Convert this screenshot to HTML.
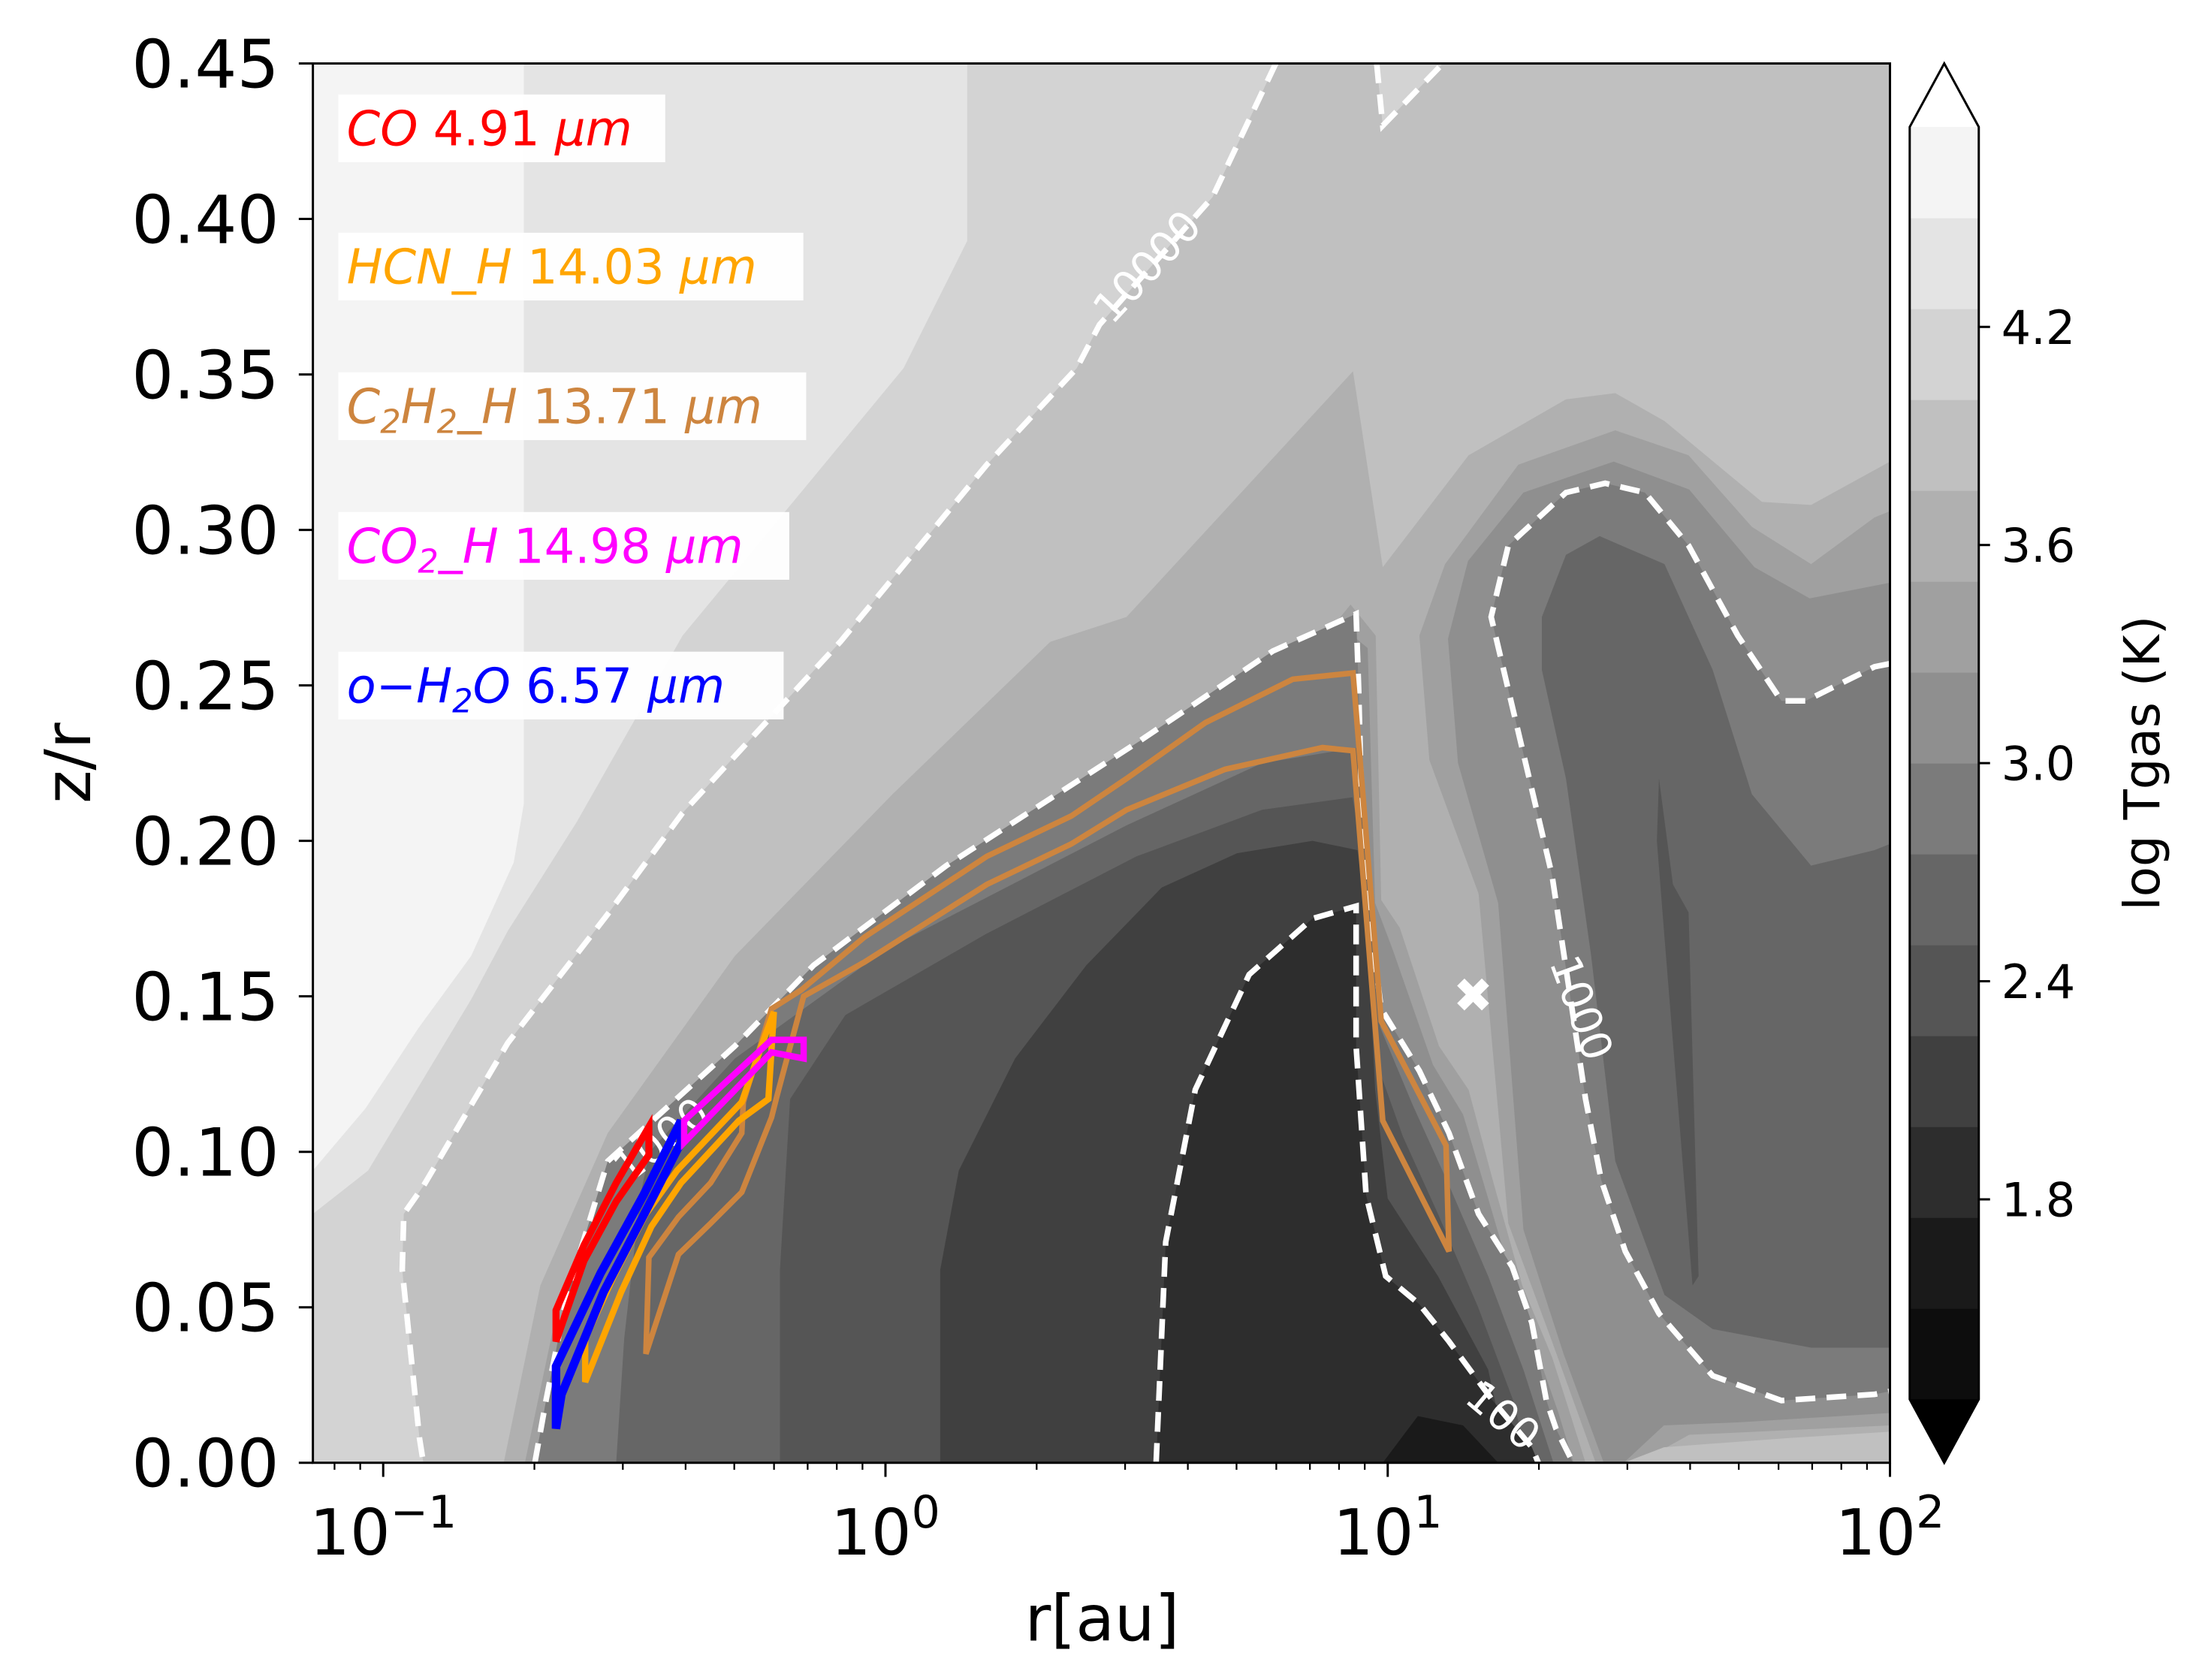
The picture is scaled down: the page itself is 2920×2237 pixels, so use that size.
<!DOCTYPE html>
<html><head><meta charset="utf-8"><style>
html,body{margin:0;padding:0;background:#fff;}
svg{display:block;}
text{font-family:"DejaVu Sans","Liberation Sans",sans-serif;}
</style></head><body>
<svg id="chart" xmlns="http://www.w3.org/2000/svg" width="2920" height="2237" viewBox="0 0 1556 1191" preserveAspectRatio="none">
<defs><clipPath id="plotclip"><rect x="222" y="45" width="1119" height="992"/></clipPath></defs>
<g id="fills" clip-path="url(#plotclip)"></g>
<g id="lines" clip-path="url(#plotclip)"></g>
<g id="axes"></g>
</svg>
<script>
// ---- data (log10 r [au], z/r) ----
const xTicksLog = [-1, 0, 1, 2];
const xTickExp = ["\u22121", "0", "1", "2"];
const yTicks = [0, 0.05, 0.10, 0.15, 0.20, 0.25, 0.30, 0.35, 0.40, 0.45];
const yTickLabels = ["0.00","0.05","0.10","0.15","0.20","0.25","0.30","0.35","0.40","0.45"];
const cbLevels = [1.25,1.5,1.75,2.0,2.25,2.5,2.75,3.0,3.25,3.5,3.75,4.0,4.25,4.5,4.75];
const cbColors = ["#0d0d0d","#1a1a1a","#2d2d2d","#404040","#555555","#666666","#7b7b7b","#8f8f8f","#a0a0a0","#b0b0b0","#c0c0c0","#d3d3d3","#e4e4e4","#f4f4f4"];
const cbTicks = [1.8, 2.4, 3.0, 3.6, 4.2];
const cbTickLabels = ["1.8","2.4","3.0","3.6","4.2"];

const c10000 = [[0.777,0.45],[0.651,0.407],[0.426,0.366],[0.381,0.352],[0.202,0.321],[-0.09,0.264],[-0.404,0.209],[-0.555,0.176],[-0.752,0.135],[-0.92,0.089],[-0.959,0.08],[-0.962,0.062],[-0.928,0.008],[-0.92,0]];
const c10000b = [[0.978,0.45],[0.99,0.43],[1.11,0.45]];
const c1000disk = [[-0.698,0],[-0.676,0.02],[-0.634,0.054],[-0.553,0.097],[-0.3,0.134],[-0.143,0.16],[0.121,0.192],[0.505,0.232],[0.771,0.261],[0.937,0.273],[0.942,0.249],[0.951,0.192],[0.987,0.146],[1.063,0.126],[1.122,0.106],[1.181,0.08],[1.248,0.063],[1.287,0.045],[1.316,0.02],[1.335,0.011],[1.369,0]];
const c1000hook = [[2.0,0.257],[1.969,0.256],[1.832,0.245],[1.784,0.245],[1.697,0.266],[1.599,0.295],[1.512,0.312],[1.433,0.315],[1.355,0.312],[1.24,0.295],[1.206,0.272],[1.26,0.235],[1.327,0.189],[1.394,0.117],[1.425,0.091],[1.473,0.068],[1.54,0.048],[1.647,0.028],[1.784,0.02],[1.969,0.022],[2.0,0.023]];
const c100 = [[0.539,0],[0.558,0.071],[0.617,0.12],[0.724,0.157],[0.85,0.175],[0.937,0.179],[0.937,0.134],[0.957,0.086],[0.996,0.06],[1.063,0.051],[1.122,0.039],[1.209,0.02],[1.287,0.005],[1.3,0]];

const fillD3 = [[-1.14,0.45]].concat(c10000).concat([[-1.14,0]]);
const fillE4 = [[-1.14,0.45],[0.163,0.45],[0.163,0.393],[0.036,0.352],[-0.194,0.307],[-0.404,0.266],[-0.615,0.206],[-0.752,0.171],[-0.825,0.149],[-1.03,0.094],[-1.14,0.08]];
const fillF4 = [[-1.14,0.45],[-0.72,0.45],[-0.72,0.212],[-0.74,0.193],[-0.825,0.163],[-0.929,0.14],[-1.035,0.114],[-1.14,0.094]];
const fillB0 = [[-0.76,0],[-0.687,0.057],[-0.553,0.106],[-0.3,0.163],[0.014,0.215],[0.328,0.264],[0.48,0.272],[0.931,0.351],[0.99,0.288],[1.161,0.324],[1.355,0.342],[1.453,0.344],[1.551,0.335],[1.745,0.309],[1.843,0.308],[2.0,0.322],[2.0,0]];
const diskA0 = [[-0.718,0],[-0.654,0.049],[-0.5,0.094],[-0.247,0.137],[0.034,0.173],[0.482,0.216],[0.763,0.244],[0.926,0.276],[0.976,0.266],[0.987,0.181],[1.024,0.172],[1.102,0.134],[1.161,0.12],[1.209,0.091],[1.268,0.057],[1.327,0.034],[1.355,0.02],[1.394,0]];
const disk8F = [[-0.7,0],[-0.64,0.045],[-0.49,0.088],[-0.24,0.132],[0.04,0.168],[0.48,0.21],[0.76,0.238],[0.93,0.266],[0.96,0.262],[0.975,0.18],[1.01,0.165],[1.09,0.128],[1.15,0.112],[1.2,0.085],[1.26,0.052],[1.31,0.03],[1.34,0.016],[1.37,0]];
const disk66 = [[-0.536,0],[-0.52,0.04],[-0.488,0.086],[-0.47,0.1],[-0.3,0.13],[0,0.165],[0.48,0.205],[0.75,0.225],[0.94,0.23],[0.96,0.2],[0.985,0.14],[1.05,0.115],[1.12,0.09],[1.2,0.06],[1.27,0.03],[1.3,0.015],[1.33,0]];
const disk55 = [[-0.21,0],[-0.21,0.062],[-0.19,0.117],[-0.08,0.144],[0.2,0.17],[0.5,0.195],[0.75,0.21],[0.93,0.214],[0.955,0.19],[0.975,0.13],[1.03,0.105],[1.1,0.08],[1.18,0.05],[1.25,0.02],[1.28,0]];
const disk40 = [[0.109,0],[0.109,0.062],[0.146,0.094],[0.258,0.13],[0.4,0.16],[0.55,0.185],[0.7,0.196],[0.85,0.2],[0.94,0.197],[0.96,0.17],[0.975,0.12],[1.0,0.085],[1.1,0.06],[1.2,0.03],[1.24,0]];
const disk1A = [[0.99,0],[1.06,0.015],[1.15,0.012],[1.22,0]];
const hookA0 = [[1.414,0],[1.327,0.039],[1.24,0.077],[1.181,0.183],[1.083,0.226],[1.063,0.266],[1.114,0.289],[1.26,0.321],[1.453,0.332],[1.599,0.324],[1.725,0.301],[1.843,0.289],[1.969,0.304],[2.0,0.306],[2.0,0.012],[1.6,0.009],[1.5,0]];
const hook8F = [[1.43,0],[1.35,0.035],[1.27,0.075],[1.22,0.18],[1.14,0.225],[1.12,0.265],[1.16,0.29],[1.27,0.312],[1.45,0.322],[1.6,0.313],[1.73,0.288],[1.84,0.278],[2.0,0.283],[2.0,0.016],[1.7,0.013],[1.55,0.012],[1.47,0]];
const hook66 = [[1.307,0.272],[1.355,0.292],[1.422,0.298],[1.551,0.289],[1.647,0.255],[1.725,0.215],[1.843,0.192],[1.969,0.197],[2.0,0.199],[2.0,0.037],[1.969,0.037],[1.843,0.037],[1.647,0.043],[1.551,0.054],[1.453,0.097],[1.405,0.163],[1.355,0.22],[1.307,0.255]];
const hook55 = [[1.536,0.2],[1.54,0.22],[1.568,0.186],[1.599,0.177],[1.619,0.06],[1.607,0.057],[1.551,0.169]];
const cornerC0 = [[1.47,0],[1.55,0.005],[1.8,0.008],[2.0,0.01],[2.0,0]];

const lineCO = [[-0.656,0.049],[-0.6,0.07],[-0.536,0.09],[-0.471,0.108],[-0.471,0.099],[-0.536,0.084],[-0.6,0.065],[-0.656,0.039]];
const lineH2O = [[-0.656,0.031],[-0.567,0.061],[-0.482,0.086],[-0.407,0.11],[-0.407,0.103],[-0.477,0.081],[-0.561,0.055],[-0.645,0.022],[-0.656,0.011]];
const lineCO2 = [[-0.401,0.11],[-0.227,0.136],[-0.163,0.136],[-0.163,0.13],[-0.227,0.132],[-0.401,0.103]];
const lineHCN = [[-0.598,0.026],[-0.598,0.04],[-0.541,0.06],[-0.477,0.08],[-0.415,0.094],[-0.286,0.116],[-0.238,0.138],[-0.222,0.145],[-0.233,0.117],[-0.292,0.11],[-0.407,0.09],[-0.466,0.076],[-0.526,0.055]];
const lineC2H2 = [[-0.477,0.035],[-0.471,0.066],[-0.412,0.079],[-0.348,0.09],[-0.286,0.106],[-0.283,0.116],[-0.238,0.14],[-0.227,0.146],[-0.168,0.152],[-0.042,0.169],[0.202,0.195],[0.37,0.208],[0.48,0.22],[0.637,0.238],[0.811,0.252],[0.931,0.254],[0.987,0.142],[1.116,0.102],[1.122,0.068],[0.99,0.11],[0.931,0.229],[0.87,0.23],[0.676,0.223],[0.48,0.21],[0.37,0.199],[0.202,0.186],[-0.042,0.161],[-0.163,0.15],[-0.216,0.118],[-0.227,0.111],[-0.286,0.087],[-0.348,0.077],[-0.412,0.067]];
const markerPos = [1.17, 0.15];
const contourLabels = [["10000",0.525,0.384,-47],["1000",1.38,0.146,70],["100",1.226,0.0145,40],["1000",-0.443,0.103,-38]];
const legendTexts = [["CO"," 4.91 ","#ff0000"],["HCN_H"," 14.03 ","#ffa500"],["C2H2_H"," 13.71 ","#cd853f"],["CO2_H"," 14.98 ","#ff00ff"],["o\u2212H2O"," 6.57 ","#0000ff"]];

// ---- axis functions ----
const PX0=222, PX1=1341, PY0=1037, PY1=45, LR0=-1.14, LR1=2.0, ZMAX=0.45;
function X(lr){return PX0+(lr-LR0)/(LR1-LR0)*(PX1-PX0);}
function Y(z){return PY0-z/ZMAX*(PY0-PY1);}
const CB0=992, CB1=90;
function YC(v){return CB0-(v-cbLevels[0])/(cbLevels[cbLevels.length-1]-cbLevels[0])*(CB0-CB1);}
const NS="http://www.w3.org/2000/svg";
function mk(tag, parent){const e=document.createElementNS(NS,tag);parent.appendChild(e);return e;}
function pts(arr){return arr.map(p=>X(p[0]).toFixed(1)+","+Y(p[1]).toFixed(1)).join(" ");}

const fills=document.getElementById("fills"), lines=document.getElementById("lines"), axes=document.getElementById("axes");

const bg=mk("rect",fills);


bg.setAttribute("x",PX0);bg.setAttribute("y",PY1);bg.setAttribute("width",PX1-PX0);bg.setAttribute("height",PY0-PY1);bg.setAttribute("fill","#c0c0c0");

const fillList=[[fillD3,"#d3d3d3","fill-d3"],[fillE4,"#e4e4e4","fill-e4"],[fillF4,"#f4f4f4","fill-f4"],[c10000b,"#d3d3d3","fill-d3-top"],[fillB0,"#b0b0b0","fill-b0"],[diskA0,"#a0a0a0","disk-a0"],[disk8F,"#8f8f8f","disk-8f"],[c1000disk,"#7b7b7b","disk-7b"],[disk66,"#666666","disk-66"],[disk55,"#555555","disk-55"],[disk40,"#404040","disk-40"],[c100,"#2d2d2d","disk-2d"],[disk1A,"#1a1a1a","disk-1a"],[hookA0,"#a0a0a0","hook-a0"],[hook8F,"#8f8f8f","hook-8f"],[c1000hook.concat([[2.0,0.257]]),"#7b7b7b","hook-7b"],[hook66,"#666666","hook-66"],[hook55,"#555555","hook-55"],[cornerC0,"#c0c0c0","corner-c0"]];
fillList.forEach(f=>{
  const p=mk("polygon",fills);
  
  
  p.setAttribute("points",pts(f[0]));p.setAttribute("fill",f[1]);
});

// contour dashed lines
[[c10000,"contour-10000"],[c10000b,"contour-10000-top"],[c1000disk,"contour-1000-disk"],[c1000hook,"contour-1000-hook"],[c100,"contour-100"]].forEach(c=>{
  const l=mk("polyline",lines);
  
  
  l.setAttribute("points",pts(c[0]));l.setAttribute("fill","none");l.setAttribute("stroke","#fff");l.setAttribute("stroke-width","4");l.setAttribute("stroke-dasharray","14,8");
});
contourLabels.forEach(c=>{
  const t=mk("text",lines);
  
  
  const x=X(c[1]),y=Y(c[2]);
  t.setAttribute("x",x);t.setAttribute("y",y);t.setAttribute("fill","#fff");t.setAttribute("font-size","30");t.setAttribute("text-anchor","middle");t.setAttribute("dominant-baseline","middle");
  t.setAttribute("transform","rotate("+c[3]+" "+x+" "+y+")");t.textContent=c[0];
});

// emission regions
[[lineC2H2,"#cd853f","region-c2h2",4],[lineHCN,"#ffa500","region-hcn",4.5],[lineCO,"#ff0000","region-co",5],[lineH2O,"#0000ff","region-h2o",6],[lineCO2,"#ff00ff","region-co2",4.5]].forEach(r=>{
  const p=mk("polygon",lines);
  
  
  p.setAttribute("points",pts(r[0]));p.setAttribute("fill","none");p.setAttribute("stroke",r[1]);p.setAttribute("stroke-width",r[3]);p.setAttribute("stroke-linejoin","miter");
});
const mx=mk("text",lines);


mx.setAttribute("x",X(markerPos[0]));mx.setAttribute("y",Y(markerPos[1]));mx.setAttribute("fill","#fff");mx.setAttribute("font-size","34");mx.setAttribute("font-weight","bold");mx.setAttribute("text-anchor","middle");mx.setAttribute("dominant-baseline","central");mx.textContent="\u2716";

// legend
const legY=[91,189,288,387,486];
const legW=[232,330,332,320,316];
legendTexts.forEach((lg,i)=>{
  const g=mk("g",axes);
  
  
  const r=mk("rect",g);
  r.setAttribute("x",240);r.setAttribute("y",legY[i]-24);r.setAttribute("width",legW[i]);r.setAttribute("height",48);r.setAttribute("fill","#fff");r.setAttribute("opacity","0.95");
  const t=mk("text",g);
  t.setAttribute("x",246);t.setAttribute("y",legY[i]+12);t.setAttribute("fill",lg[2]);t.setAttribute("font-size","34");
  const parts=lg[0].match(/[^0-9]+|[0-9]/g);
  let pend=0;
  parts.forEach(p=>{
    const s=mk("tspan",t);s.setAttribute("font-style","italic");
    if(/[0-9]/.test(p)){s.setAttribute("font-size","23");s.setAttribute("dy",String(7-pend));pend=7;}
    else if(pend){s.setAttribute("dy",String(-pend));pend=0;}
    s.textContent=p;
  });
  const n=mk("tspan",t);if(pend){n.setAttribute("dy",String(-pend));}n.textContent=lg[1];
  const u=mk("tspan",t);u.setAttribute("font-style","italic");u.textContent="\u03bcm";
});

// spines
const sp=mk("rect",axes);


sp.setAttribute("x",PX0);sp.setAttribute("y",PY1);sp.setAttribute("width",PX1-PX0);sp.setAttribute("height",PY0-PY1);sp.setAttribute("fill","none");sp.setAttribute("stroke","#000");sp.setAttribute("stroke-width","1.6");

// x ticks
xTicksLog.forEach((d,i)=>{
  const x=X(d);
  const tk=mk("line",axes);
  
  
  tk.setAttribute("x1",x);tk.setAttribute("x2",x);tk.setAttribute("y1",PY0);tk.setAttribute("y2",PY0+10);tk.setAttribute("stroke","#000");tk.setAttribute("stroke-width","1.6");
  const t=mk("text",axes);
  
  
  t.setAttribute("x",x);t.setAttribute("y",1102);t.setAttribute("font-size","45");t.setAttribute("text-anchor","middle");
  const a=mk("tspan",t);a.textContent="10";
  const b=mk("tspan",t);b.setAttribute("font-size","32");b.setAttribute("dy","-19");b.textContent=xTickExp[i];
});
for(let d=-2; d<=2; d++){
  for(let k=2;k<=9;k++){
    const lr=d+Math.log10(k);
    if(lr<LR0||lr>LR1) continue;
    const x=X(lr);
    const tk=mk("line",axes);
    
    
    tk.setAttribute("x1",x);tk.setAttribute("x2",x);tk.setAttribute("y1",PY0);tk.setAttribute("y2",PY0+5);tk.setAttribute("stroke","#000");tk.setAttribute("stroke-width","1.2");
  }
}
// y ticks
yTicks.forEach((v,i)=>{
  const y=Y(v);
  const tk=mk("line",axes);
  
  
  tk.setAttribute("x1",PX0-10);tk.setAttribute("x2",PX0);tk.setAttribute("y1",y);tk.setAttribute("y2",y);tk.setAttribute("stroke","#000");tk.setAttribute("stroke-width","1.6");
  const t=mk("text",axes);
  
  
  t.setAttribute("x",PX0-24);t.setAttribute("y",y+17);t.setAttribute("font-size","47");t.setAttribute("text-anchor","end");t.textContent=yTickLabels[i];
});
const xl=mk("text",axes);


xl.setAttribute("x",782);xl.setAttribute("y",1163);xl.setAttribute("font-size","45");xl.setAttribute("text-anchor","middle");xl.textContent="r[au]";
const yl=mk("text",axes);


yl.setAttribute("x",0);yl.setAttribute("y",0);yl.setAttribute("font-size","45");yl.setAttribute("text-anchor","middle");yl.setAttribute("transform","translate(64,541) rotate(-90)");yl.textContent="z/r";

// colorbar
const CBX=1355, CBW=49;
cbColors.forEach((c,i)=>{
  const r=mk("rect",axes);
  
  
  const y0=YC(cbLevels[i+1]), y1=YC(cbLevels[i]);
  r.setAttribute("x",CBX);r.setAttribute("y",y0);r.setAttribute("width",CBW);r.setAttribute("height",y1-y0+0.3);r.setAttribute("fill",c);
});
const tri1=mk("polygon",axes);


tri1.setAttribute("points",CBX+","+CB1+" "+(CBX+CBW/2)+",45 "+(CBX+CBW)+","+CB1);tri1.setAttribute("fill","#fff");
const tri2=mk("polygon",axes);


tri2.setAttribute("points",CBX+","+CB0+" "+(CBX+CBW/2)+",1037 "+(CBX+CBW)+","+CB0);tri2.setAttribute("fill","#000");
const cbo=mk("polygon",axes);


cbo.setAttribute("points",CBX+","+CB1+" "+(CBX+CBW/2)+",45 "+(CBX+CBW)+","+CB1+" "+(CBX+CBW)+","+CB0+" "+(CBX+CBW/2)+",1037 "+CBX+","+CB0);cbo.setAttribute("fill","none");cbo.setAttribute("stroke","#000");cbo.setAttribute("stroke-width","1.6");
cbTicks.forEach((v,i)=>{
  const y=YC(v);
  const tk=mk("line",axes);
  
  
  tk.setAttribute("x1",CBX+CBW);tk.setAttribute("x2",CBX+CBW+8);tk.setAttribute("y1",y);tk.setAttribute("y2",y);tk.setAttribute("stroke","#000");tk.setAttribute("stroke-width","1.6");
  const t=mk("text",axes);
  
  
  t.setAttribute("x",CBX+CBW+16);t.setAttribute("y",y+12);t.setAttribute("font-size","33");t.textContent=cbTickLabels[i];
});
const cl=mk("text",axes);


cl.setAttribute("x",0);cl.setAttribute("y",0);cl.setAttribute("font-size","35");cl.setAttribute("text-anchor","middle");cl.setAttribute("transform","translate(1532,541) rotate(-90)");cl.textContent="log Tgas (K)";
</script>
</body></html>
